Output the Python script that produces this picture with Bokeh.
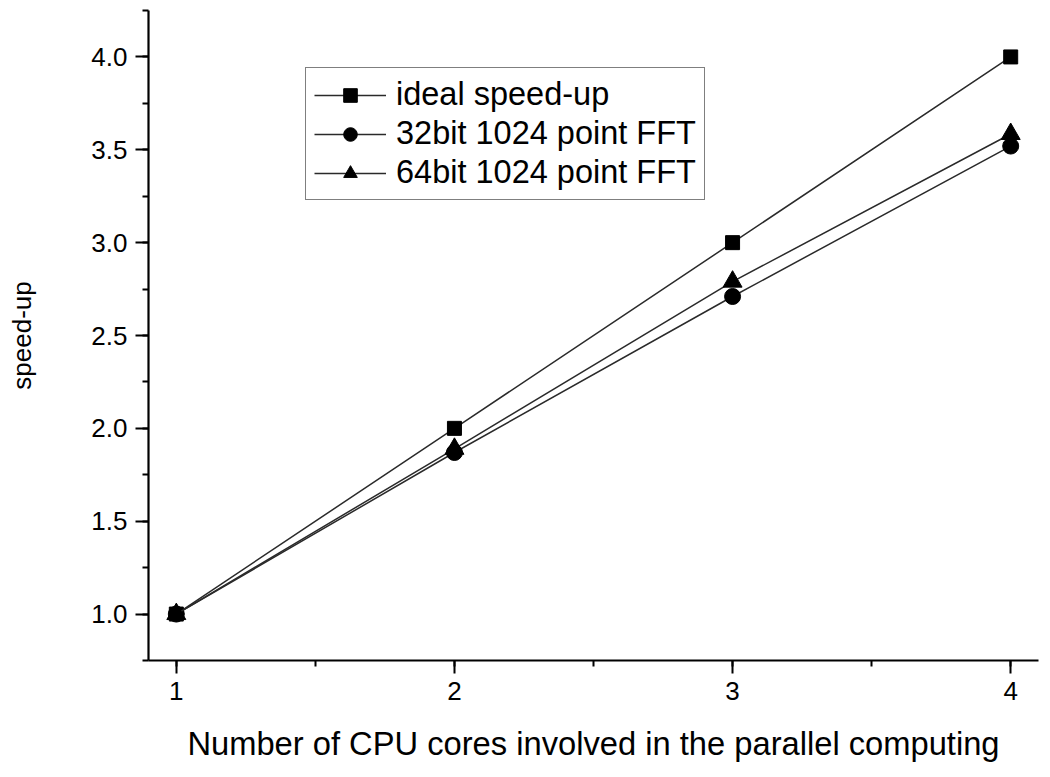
from bokeh.plotting import figure
from bokeh.models import Range1d, SingleIntervalTicker, Legend, LegendItem, CustomJSTickFormatter
from bokeh.embed import file_html
from bokeh.resources import INLINE

cores = [1, 2, 3, 4]
ideal = [1.0, 2.0, 3.0, 4.0]
fft32 = [1.0, 1.87, 2.71, 3.52]
fft64 = [1.0, 1.89, 2.79, 3.585]
labels = ["ideal speed-up", "32bit 1024 point FFT", "64bit 1024 point FFT"]

FONT = "Liberation Sans"

p = figure(width=1042, height=769, output_backend="svg", toolbar_location=None,
           x_range=Range1d(0.9, 4.1), y_range=Range1d(0.75, 4.25),
           min_border_left=148, min_border_right=4, min_border_top=10, min_border_bottom=109)
p.outline_line_color = None
p.xgrid.visible = False
p.ygrid.visible = False

line_color = "#2a2a2a"
items = []
series = [(ideal, "square", 14), (fft32, "circle", 16), (fft64, "triangle", 19)]
for (ys, marker, sz), lab in zip(series, labels):
    l = p.line(cores, ys, line_color=line_color, line_width=1.5)
    s = p.scatter(cores, ys, marker=marker, size=sz, fill_color="black", line_color="black")
    items.append(LegendItem(label=lab, renderers=[l, s]))

legend = Legend(items=items, location=(157, 460))
legend.label_text_font = FONT
legend.label_text_font_size = "32.5px"
legend.label_text_color = "black"
legend.glyph_width = 72
legend.glyph_height = 34
legend.label_height = 34
legend.label_standoff = 10
legend.spacing = 2
legend.padding = 8
legend.margin = 0
legend.border_line_color = "black"
legend.border_line_width = 1.5
legend.background_fill_alpha = 1
p.add_layout(legend, "center")

for ax in (p.xaxis[0], p.yaxis[0]):
    ax.axis_line_width = 2.2
    ax.axis_line_color = "black"
    ax.major_tick_line_width = 2
    ax.minor_tick_line_width = 2
    ax.major_tick_out = 13
    ax.major_tick_in = 0
    ax.minor_tick_out = 6
    ax.minor_tick_in = 0
    ax.major_label_text_font = FONT
    ax.major_label_text_font_size = "26px"
    ax.major_label_text_color = "black"
    ax.axis_label_text_font = FONT
    ax.axis_label_text_font_style = "normal"
    ax.axis_label_text_color = "black"
    ax.major_label_standoff = 8

p.xaxis.ticker = SingleIntervalTicker(interval=1, num_minor_ticks=2)
p.yaxis.ticker = SingleIntervalTicker(interval=0.5, num_minor_ticks=2)
p.yaxis.formatter = CustomJSTickFormatter(code="return tick.toFixed(1);")

p.xaxis.axis_label = "Number of CPU cores involved in the parallel computing"
p.xaxis.axis_label_text_font_size = "32.7px"
p.xaxis.axis_label_standoff = 22
p.yaxis.axis_label = "speed-up"
p.yaxis.axis_label_text_font_size = "26px"
p.yaxis.axis_label_standoff = 51

open("out.html", "w").write(file_html(p, INLINE))
